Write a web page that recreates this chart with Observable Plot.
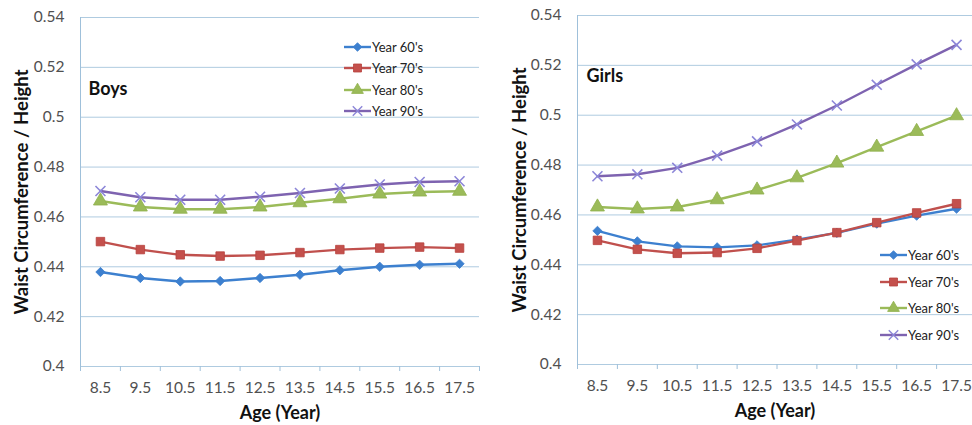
<!DOCTYPE html>
<html><head><meta charset="utf-8">
<script src="https://cdn.jsdelivr.net/npm/d3@7"></script>
<script src="https://cdn.jsdelivr.net/npm/@observablehq/plot@0.6"></script>
<style>
body{margin:0;background:#fff;font-family:Lato,"Open Sans",sans-serif;}
#wrap{position:relative;width:972px;height:425px;overflow:hidden;background:#fff;}
.panel{position:absolute;top:0;height:425px;overflow:hidden;}
.legend{position:absolute;left:0;top:0;font-family:Lato,sans-serif;font-size:13px;color:#222;}
.legend .row{position:absolute;display:flex;align-items:center;white-space:nowrap;height:16px;}
.legend svg{display:block;}
</style></head><body><div id="wrap"></div>
<script>
// ---- data ----
const ages = [8.5, 9.5, 10.5, 11.5, 12.5, 13.5, 14.5, 15.5, 16.5, 17.5];
const tickEdges = [8, 9, 10, 11, 12, 13, 14, 15, 16, 17, 18];
const yTicks = [0.4, 0.42, 0.44, 0.46, 0.48, 0.5, 0.52, 0.54];
const seriesNames = ["Year 60's", "Year 70's", "Year 80's", "Year 90's"];

const boys60 = [0.4379, 0.4355, 0.4341, 0.4343, 0.4355, 0.4368, 0.4386, 0.4400, 0.4408, 0.4412];
const boys70 = [0.4501, 0.4469, 0.4448, 0.4443, 0.4446, 0.4457, 0.4469, 0.4475, 0.4479, 0.4475];
const boys80 = [0.4664, 0.4640, 0.4631, 0.4631, 0.4640, 0.4657, 0.4673, 0.4692, 0.4700, 0.4703];
const boys90 = [0.4704, 0.4679, 0.4669, 0.4669, 0.4681, 0.4696, 0.4714, 0.4730, 0.4740, 0.4743];

const girls60 = [0.4536, 0.4494, 0.4474, 0.4470, 0.4478, 0.4501, 0.4528, 0.4565, 0.4597, 0.4625];
const girls70 = [0.4498, 0.4462, 0.4446, 0.4449, 0.4466, 0.4497, 0.4529, 0.4569, 0.4608, 0.4645];
const girls80 = [0.4632, 0.4624, 0.4632, 0.4661, 0.4700, 0.4749, 0.4808, 0.4872, 0.4935, 0.4998];
const girls90 = [0.4755, 0.4763, 0.4789, 0.4838, 0.4895, 0.4963, 0.5039, 0.5122, 0.5204, 0.5282];

// ---- styles ----
const lineColors = ["#3D80CF", "#C0504D", "#9BBB59", "#7E63B0"];
const markFill = ["#3D80CF", "#C4504C", "#9BBB59", "none"];
const markStroke = ["#3D80CF", "#B8413E", "#8FB04C", "#8C86D8"];
const plotSymbols = ["diamond2", "square", "triangle", "times"];
const markR = [4.2, 4.8, 5.2, 4.6];
const gridColor = "#AFCBE0";
const axisColor = "#9FC0DA";

function rowsFrom(arrs) {
  const rows = [];
  arrs.forEach((vals, i) => vals.forEach((v, j) => rows.push({series: seriesNames[i], age: ages[j], value: v})));
  return rows;
}

function panel({left, width, marginLeft, marginRight, marginTop, marginBottom, xRange, arrs, label, labelDx, labelDy, yTitleDx, legend}) {
  const rows = rowsFrom(arrs);
  const marks = [
    Plot.gridY(yTicks, {stroke: gridColor, strokeOpacity: 1, strokeWidth: 1}),
    Plot.ruleX([8], {stroke: axisColor, strokeWidth: 1}),
    Plot.axisY(yTicks, {tickSize: 0, tickPadding: 16, tickFormat: d => String(d), fontSize: 15.5, label: null}),
    Plot.axisX(ages, {tickSize: 0, tickPadding: 15, tickFormat: d => String(d), fontSize: 15.5, label: null}),
    Plot.axisX(tickEdges, {tickSize: 5, tickFormat: () => "", stroke: axisColor, label: null}),
    Plot.line(rows, {x: "age", y: "value", z: "series", stroke: "series", strokeWidth: 2.4})
  ];
  seriesNames.forEach((s, i) => {
    marks.push(Plot.dot(rows.filter(d => d.series === s), {
      x: "age", y: "value", symbol: plotSymbols[i], r: markR[i],
      fill: markFill[i], stroke: markStroke[i], strokeWidth: i === 3 ? 1.6 : 0.8
    }));
  });
  marks.push(
    Plot.text([label], {frameAnchor: "top-left", textAnchor: "start", lineAnchor: "middle", dx: labelDx, dy: labelDy, fontWeight: "bold", fontSize: 18, fill: "#111"}),
    Plot.text(["Waist Circumference / Height"], {frameAnchor: "left", textAnchor: "middle", lineAnchor: "middle", rotate: -90, dx: yTitleDx, fontWeight: "bold", fontSize: 18.5, fill: "#111"}),
    Plot.text(["Age (Year)"], {frameAnchor: "bottom", textAnchor: "middle", lineAnchor: "middle", dy: 47, fontWeight: "bold", fontSize: 18, fill: "#111"})
  );
  const xOpts = {domain: [8, 18]};
  if (xRange) xOpts.range = xRange;
  const svg = Plot.plot({
    width, height: 425, marginLeft, marginRight, marginTop, marginBottom,
    x: xOpts,
    y: {domain: [0.4, 0.54]},
    color: {domain: seriesNames, range: lineColors},
    style: {fontFamily: "Lato, 'Open Sans', sans-serif", fontSize: "15px", color: "#505050", background: "#fff", overflow: "hidden"},
    marks
  });
  const div = document.createElement("div");
  div.className = "panel";
  div.style.left = left + "px";
  div.style.width = width + "px";
  div.appendChild(svg);

  // legend
  const lg = document.createElement("div");
  lg.className = "legend";
  const d3syms = [d3.symbolDiamond2, d3.symbolSquare, d3.symbolTriangle, d3.symbolTimes];
  const lsize = [48, 64, 60, 60];
  seriesNames.forEach((s, i) => {
    const row = document.createElement("div");
    row.className = "row";
    row.style.left = legend.x + "px";
    row.style.top = (legend.y + i * legend.step - 8) + "px";
    const sw = d3.create("svg").attr("width", 27).attr("height", 16);
    sw.append("line").attr("x1", 0).attr("x2", 27).attr("y1", 8).attr("y2", 8)
      .attr("stroke", lineColors[i]).attr("stroke-width", 2.4);
    sw.append("path").attr("transform", "translate(13.5,8)")
      .attr("d", d3.symbol(d3syms[i], lsize[i])())
      .attr("fill", markFill[i]).attr("stroke", markStroke[i]).attr("stroke-width", i === 3 ? 1.4 : 0.8);
    row.appendChild(sw.node());
    const t = document.createElement("span");
    t.textContent = s;
    t.style.marginLeft = "1px";
    row.appendChild(t);
    lg.appendChild(row);
  });
  div.appendChild(lg);
  document.getElementById("wrap").appendChild(div);
}

panel({left: 0, width: 490, marginLeft: 80, marginRight: 11, marginTop: 17, marginBottom: 59,
  arrs: [boys60, boys70, boys80, boys90], label: "Boys", labelDx: 8, labelDy: 72, yTitleDx: -58,
  legend: {x: 344, y: 47, step: 21.4}});
panel({left: 490, width: 482, marginLeft: 87, marginRight: 0, marginTop: 15, marginBottom: 61, xRange: [87, 486],
  arrs: [girls60, girls70, girls80, girls90], label: "Girls", labelDx: 9, labelDy: 61, yTitleDx: -57,
  legend: {x: 390, y: 255, step: 26.7}});
</script></body></html>
